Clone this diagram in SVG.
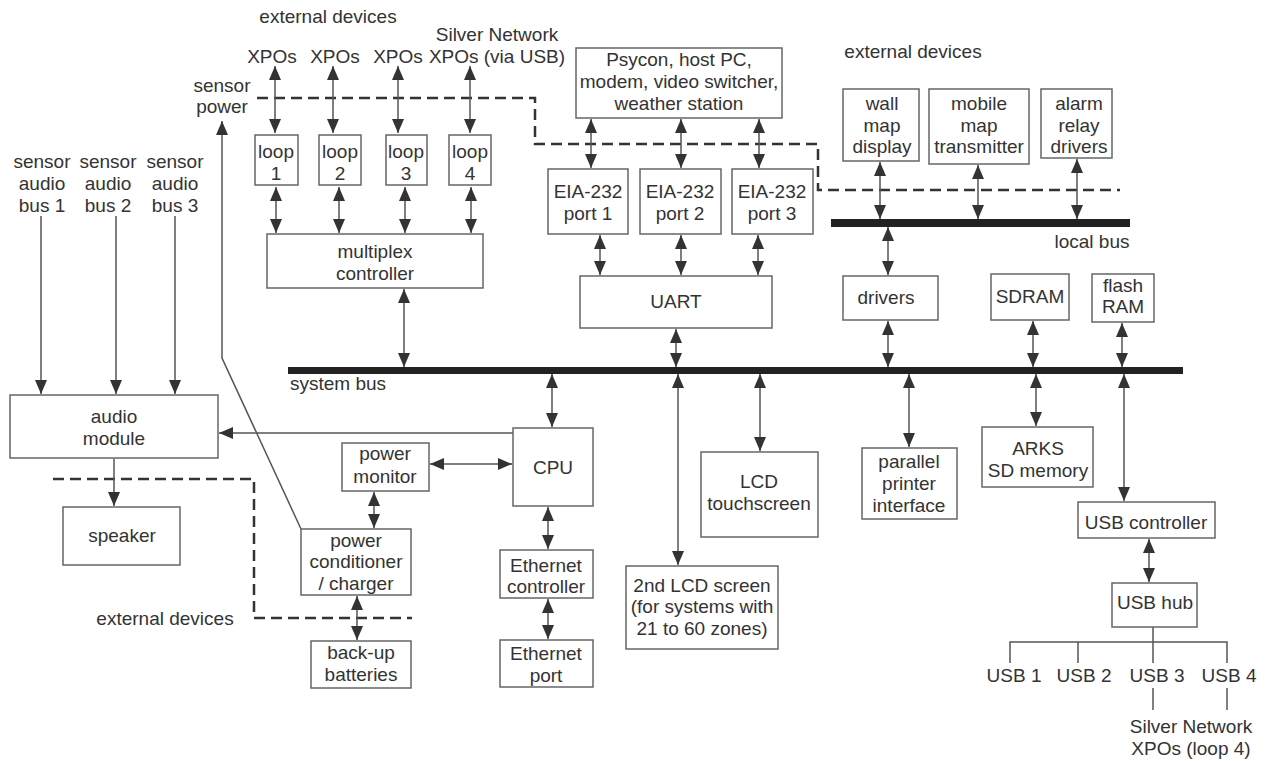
<svg xmlns="http://www.w3.org/2000/svg" width="1268" height="761" viewBox="0 0 1268 761">
<style>
text{font-family:"Liberation Sans",Arial,sans-serif;font-size:19px;fill:#333;text-anchor:middle}
.l{text-anchor:start}
.box{fill:#fff;stroke:#666;stroke-width:1.5}
.c{stroke:#555;stroke-width:1.5;fill:none}
.bi{marker-start:url(#ah);marker-end:url(#ah)}
.one{marker-end:url(#ah)}
.dash{stroke:#333;stroke-width:2.5;fill:none;stroke-dasharray:11 6}
.bus{fill:#222}
</style>
<defs>
<marker id="ah" viewBox="0 0 14 12" refX="14" refY="6" markerWidth="14" markerHeight="12" markerUnits="userSpaceOnUse" orient="auto-start-reverse">
<path d="M0,0 L14,6 L0,12 z" fill="#333"/>
</marker>
</defs>

<g id="labels">
<text x="328" y="23">external devices</text>
<text x="272" y="63">XPOs</text>
<text x="335" y="63">XPOs</text>
<text x="398" y="63">XPOs</text>
<text x="497" y="41">Silver Network</text>
<text x="497" y="63">XPOs (via USB)</text>
<text x="222" y="92">sensor</text>
<text x="222" y="113">power</text>
<text x="42" y="168">sensor</text>
<text x="42" y="190">audio</text>
<text x="42" y="212">bus 1</text>
<text x="108" y="168">sensor</text>
<text x="108" y="190">audio</text>
<text x="108" y="212">bus 2</text>
<text x="175" y="168">sensor</text>
<text x="175" y="190">audio</text>
<text x="175" y="212">bus 3</text>
<text x="913" y="58">external devices</text>
<text x="1092" y="248">local bus</text>
<text class="l" x="290" y="390">system bus</text>
<text x="165" y="625">external devices</text>
<text x="1014" y="682">USB 1</text>
<text x="1084" y="682">USB 2</text>
<text x="1157" y="682">USB 3</text>
<text x="1229" y="682">USB 4</text>
<text x="1191" y="733">Silver Network</text>
<text x="1191" y="755">XPOs (loop 4)</text>
</g>

<g id="buses">
<rect class="bus" x="288" y="367" width="895" height="7"/>
<rect class="bus" x="831" y="219" width="299" height="8"/>
</g>

<g id="boundaries">
<polyline class="dash" points="257,98 535,98 535,144 818,144 818,190 1120,190"/>
<polyline class="dash" points="53,479 254,479 254,618 412,618"/>
</g>

<g id="connectors">
<line class="c bi" x1="275" y1="66" x2="275" y2="133"/>
<line class="c bi" x1="333" y1="66" x2="333" y2="133"/>
<line class="c bi" x1="398" y1="66" x2="398" y2="133"/>
<line class="c bi" x1="470" y1="66" x2="470" y2="133"/>
<line class="c bi" x1="276" y1="187" x2="276" y2="233"/>
<line class="c bi" x1="339" y1="187" x2="339" y2="233"/>
<line class="c bi" x1="405" y1="187" x2="405" y2="233"/>
<line class="c bi" x1="471" y1="187" x2="471" y2="233"/>
<line class="c bi" x1="404" y1="289" x2="404" y2="367"/>
<line class="c bi" x1="591" y1="119" x2="591" y2="168"/>
<line class="c bi" x1="681" y1="119" x2="681" y2="168"/>
<line class="c bi" x1="759" y1="119" x2="759" y2="168"/>
<line class="c bi" x1="600" y1="235" x2="600" y2="275"/>
<line class="c bi" x1="681" y1="235" x2="681" y2="275"/>
<line class="c bi" x1="758" y1="235" x2="758" y2="275"/>
<line class="c bi" x1="676" y1="329" x2="676" y2="367"/>
<line class="c bi" x1="880" y1="162" x2="880" y2="219"/>
<line class="c bi" x1="978" y1="165" x2="978" y2="219"/>
<line class="c bi" x1="1077" y1="159" x2="1077" y2="219"/>
<line class="c bi" x1="888" y1="227" x2="888" y2="275"/>
<line class="c bi" x1="888" y1="321" x2="888" y2="367"/>
<line class="c bi" x1="1033" y1="321" x2="1033" y2="367"/>
<line class="c bi" x1="1122" y1="323" x2="1122" y2="367"/>
<line class="c bi" x1="552" y1="374" x2="552" y2="427"/>
<line class="c bi" x1="678" y1="374" x2="678" y2="565"/>
<line class="c bi" x1="760" y1="374" x2="760" y2="451"/>
<line class="c bi" x1="909" y1="374" x2="909" y2="447"/>
<line class="c bi" x1="1036" y1="374" x2="1036" y2="426"/>
<line class="c bi" x1="1124" y1="374" x2="1124" y2="501"/>
<line class="c bi" x1="1149" y1="539" x2="1149" y2="582"/>
<line class="c bi" x1="430" y1="464" x2="512" y2="464"/>
<line class="c bi" x1="374" y1="492" x2="374" y2="528"/>
<line class="c bi" x1="357" y1="596" x2="357" y2="640"/>
<line class="c bi" x1="548" y1="507" x2="548" y2="549"/>
<line class="c bi" x1="548" y1="599" x2="548" y2="639"/>
<line class="c one" x1="41" y1="216" x2="41" y2="394"/>
<line class="c one" x1="116" y1="216" x2="116" y2="394"/>
<line class="c one" x1="175" y1="216" x2="175" y2="394"/>
<line class="c one" x1="114" y1="459" x2="114" y2="506"/>
<line class="c one" x1="513" y1="433" x2="219" y2="433"/>
<polyline class="c one" points="301,529 222,358 222,121"/>
<polyline class="c" points="1010,663 1010,642 1227,642 1227,663"/>
<line class="c" x1="1078" y1="642" x2="1078" y2="663"/>
<line class="c" x1="1153" y1="627" x2="1153" y2="663"/>
<line class="c" x1="1153" y1="688" x2="1153" y2="710"/>
<line class="c" x1="1227" y1="688" x2="1227" y2="710"/>
</g>

<g id="loop1"><rect class="box" x="255" y="135" width="43" height="50"/><text x="276" y="158">loop</text><text x="276" y="180">1</text></g>
<g id="loop2"><rect class="box" x="319" y="135" width="42" height="50"/><text x="340" y="158">loop</text><text x="340" y="180">2</text></g>
<g id="loop3"><rect class="box" x="386" y="135" width="41" height="50"/><text x="406" y="158">loop</text><text x="406" y="180">3</text></g>
<g id="loop4"><rect class="box" x="449" y="135" width="42" height="50"/><text x="470" y="158">loop</text><text x="470" y="180">4</text></g>
<g id="multiplex"><rect class="box" x="267" y="234" width="216" height="54"/><text x="375" y="258">multiplex</text><text x="375" y="280">controller</text></g>
<g id="psycon"><rect class="box" x="576" y="48" width="206" height="70"/><text x="679" y="66">Psycon, host PC,</text><text x="679" y="88">modem, video switcher,</text><text x="679" y="110">weather station</text></g>
<g id="port1"><rect class="box" x="548" y="169" width="80" height="65"/><text x="588" y="198">EIA-232</text><text x="588" y="220">port 1</text></g>
<g id="port2"><rect class="box" x="640" y="169" width="81" height="65"/><text x="680" y="198">EIA-232</text><text x="680" y="220">port 2</text></g>
<g id="port3"><rect class="box" x="732" y="169" width="81" height="65"/><text x="772" y="198">EIA-232</text><text x="772" y="220">port 3</text></g>
<g id="uart"><rect class="box" x="580" y="276" width="192" height="52"/><text x="676" y="308">UART</text></g>
<g id="wallmap"><rect class="box" x="843" y="89" width="76" height="72"/><text x="882" y="110">wall</text><text x="882" y="132">map</text><text x="882" y="153">display</text></g>
<g id="mobilemap"><rect class="box" x="929" y="89" width="100" height="75"/><text x="979" y="110">mobile</text><text x="979" y="132">map</text><text x="979" y="153">transmitter</text></g>
<g id="alarm"><rect class="box" x="1041" y="89" width="71" height="69"/><text x="1079" y="110">alarm</text><text x="1079" y="132">relay</text><text x="1079" y="153">drivers</text></g>
<g id="drivers"><rect class="box" x="843" y="276" width="95" height="44"/><text x="886" y="304">drivers</text></g>
<g id="sdram"><rect class="box" x="991" y="274" width="78" height="46"/><text x="1030" y="303">SDRAM</text></g>
<g id="flash"><rect class="box" x="1092" y="274" width="62" height="48"/><text x="1123" y="292">flash</text><text x="1123" y="313">RAM</text></g>
<g id="audio"><rect class="box" x="10" y="395" width="208" height="63"/><text x="114" y="423">audio</text><text x="114" y="445">module</text></g>
<g id="speaker"><rect class="box" x="63" y="507" width="117" height="58"/><text x="122" y="542">speaker</text></g>
<g id="powermonitor"><rect class="box" x="342" y="443" width="87" height="48"/><text x="385" y="460">power</text><text x="385" y="483">monitor</text></g>
<g id="cpu"><rect class="box" x="513" y="428" width="80" height="78"/><text x="553" y="474">CPU</text></g>
<g id="powerconditioner"><rect class="box" x="301" y="529" width="110" height="66"/><text x="356" y="547">power</text><text x="356" y="568">conditioner</text><text x="356" y="590">/ charger</text></g>
<g id="batteries"><rect class="box" x="311" y="641" width="100" height="47"/><text x="361" y="659">back-up</text><text x="361" y="681">batteries</text></g>
<g id="ethctrl"><rect class="box" x="500" y="550" width="93" height="48"/><text x="546" y="572">Ethernet</text><text x="546" y="593">controller</text></g>
<g id="ethport"><rect class="box" x="500" y="640" width="93" height="47"/><text x="546" y="660">Ethernet</text><text x="546" y="682">port</text></g>
<g id="lcd2"><rect class="box" x="626" y="566" width="152" height="83"/><text x="702" y="592">2nd LCD screen</text><text x="702" y="613">(for systems with</text><text x="702" y="635">21 to 60 zones)</text></g>
<g id="lcdtouch"><rect class="box" x="701" y="452" width="117" height="85"/><text x="759" y="488">LCD</text><text x="759" y="510">touchscreen</text></g>
<g id="parallel"><rect class="box" x="862" y="448" width="95" height="71"/><text x="909" y="468">parallel</text><text x="909" y="490">printer</text><text x="909" y="512">interface</text></g>
<g id="arks"><rect class="box" x="982" y="427" width="111" height="60"/><text x="1038" y="455">ARKS</text><text x="1038" y="477">SD memory</text></g>
<g id="usbctrl"><rect class="box" x="1078" y="502" width="137" height="36"/><text x="1146" y="529">USB controller</text></g>
<g id="usbhub"><rect class="box" x="1112" y="583" width="85" height="44"/><text x="1155" y="609">USB hub</text></g>
</svg>
